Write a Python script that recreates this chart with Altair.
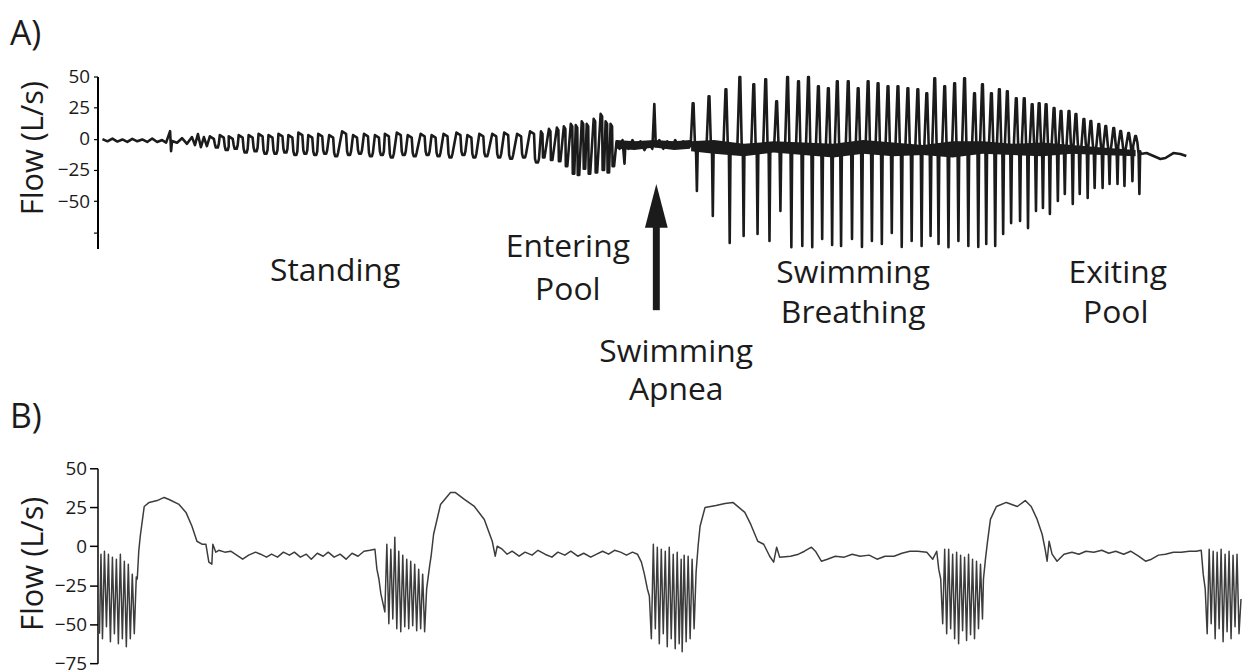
import altair as alt
import pandas as pd

FONT = "Open Sans"
INK = "#1b1b1b"
TRACE_B = "#3c3c3c"

# ---------------- Panel A: whole session (time in samples, flow in L/s) ----------------
a_rest_t = [5, 10, 15, 20, 25, 30, 35, 40, 45, 50, 55, 60, 65, 69, 73, 74, 75, 80, 85, 90,
            95, 98, 101, 104, 107, 110]
a_rest_flow = [-0.2, -2.0, 0.2, -2.2, -0.5, -2.5, 0.0, -2.0, -0.5, -2.5, 0.3, -2.5, -1.0, -3.0,
               6.2, -9.9, -1.8, -3.2, 0.5, -4.0, 1.4, -5.0, 3.8, -6.7, 1.4, -5.8]

stand_trough_t = [120, 130, 139, 149, 159, 169, 179, 189, 199, 209, 219, 229, 240, 253, 264,
                  275, 286, 296, 308, 319, 332, 343, 355, 368, 379, 391, 404, 416, 429, 442]
stand_trough_flow = [-7, -9, -8, -11, -10, -12, -12, -11, -13, -12, -13, -12, -14, -13, -12,
                     -14, -13, -15, -13, -14, -13, -14, -15, -13, -15, -14, -15, -16, -15, -19]
stand_top_flow = [2, 3, 2, 3, 3, 4, 3, 4, 3, 5, 3, 4, 3, 6, 3, 4, 3, 4, 5, 3, 4, 3, 4, 5, 3,
                  4, 4, 5, 4, 6]

enter_trough_t = [449, 457, 465, 472, 479, 484, 490, 495, 502, 509, 514, 519]
enter_trough_flow = [-15, -17, -18, -22, -28, -29, -24, -28, -27, -25, -27, -22]
enter_top_flow = [6, 8, 9, 10, 12, 11, 14, 12, 16, 20, 14, 12]

apnea_t = [522, 525, 528, 530, 531, 534, 538, 542, 546, 550, 554, 558, 560, 561.5, 565, 569,
           573, 577, 581, 585, 589, 593, 596]
apnea_flow = [-2, -8, -1, -20, -3, -8, -1, -7, -2, -9, -3, -8, 28, -6, -1, -8, -2, -7, -1, -6,
              -2, -6, -3]
apnea_band_t = [522, 540, 560, 580, 596]
apnea_band_hi = [-1, -2, -1, -2, -1]
apnea_band_lo = [-8, -9, -7, -9, -8]

swim_t = [599, 615, 632, 646, 660, 672, 683, 694, 705, 715, 725, 735, 744, 755, 765, 775, 785,
          795, 805, 815, 825, 834, 842, 852, 862, 872, 882, 890, 899, 907, 915, 924, 932, 940,
          947, 954, 962, 969, 977, 984, 992, 999, 1007, 1014, 1022, 1029, 1037, 1044]
swim_peak_flow = [28.6, 34.2, 39.8, 49.5, 43.8, 47.8, 30.2, 49.5, 46.2, 49.5, 42.2, 40.6, 46.2,
                  46.2, 40.6, 46.2, 44.6, 42.2, 42.2, 40.6, 39.8, 36.6, 48.6, 42.2, 44.6, 48.6,
                  36.6, 43.8, 36.6, 39.8, 38.2, 32.6, 32.6, 27.8, 28.6, 27.8, 24.6, 22.2, 22.2,
                  19.8, 15.8, 14.2, 11.8, 10.2, 8.6, 6.2, 4.6, 2.2]
swim_trough_flow = [-41.9, -61.9, -83.6, -77.9, -76.3, -82.0, -57.9, -87.0, -85.9, -87.0, -80.4,
                    -85.1, -85.9, -80.4, -86.7, -82.0, -84.4, -75.6, -86.7, -82.0, -85.9, -77.9,
                    -84.4, -87.0, -82.0, -85.9, -86.7, -84.4, -85.9, -76.3, -67.6, -65.9, -71.6,
                    -57.9, -55.5, -60.3, -49.9, -44.3, -52.3, -44.3, -47.5, -39.5, -39.5, -36.3,
                    -36.3, -37.9, -33.9, -44.3]
swim_base_flow = [-6, -3, -12, -10]
swim_band_t = [597, 620, 650, 680, 710, 740, 770, 800, 830, 860, 890, 920, 950, 980, 1010, 1044]
swim_band_hi = [-2, -1, -4, -2, -3, -4, -1, -3, -5, -2, -2, -4, -3, -5, -7, -9]
swim_band_lo = [-10, -12, -14, -11, -13, -15, -12, -14, -13, -15, -12, -13, -14, -12, -13, -14]

exit_t = [1049, 1055, 1062, 1069, 1074, 1082, 1089, 1095]
exit_flow = [-12.2, -11.4, -13.8, -16.2, -15.4, -11.4, -12.2, -13.8]

# ---------------- Panel B: four strokes (time in samples, flow in L/s) ----------------
b_burst1_t = [2, 3.5, 5, 7, 9, 11, 13, 15, 17, 19, 21, 23, 25, 27, 29, 31, 33, 35, 37, 39]
b_burst1_flow = [-56.1, -5.1, -59.3, -3.2, -51.7, -5.1, -61.2, -7.0, -56.1, -8.3, -62.5, -5.1,
                 -59.3, -9.6, -64.4, -11.5, -59.3, -17.9, -56.1, -19.8]
b_hump1_t = [40, 41.5, 43, 47, 52, 60, 67, 72, 82, 89, 95, 100, 105, 109, 112, 115, 116, 119]
b_hump1_flow = [-21.0, -3.2, 6.4, 25.5, 28.1, 29.3, 31.3, 30.0, 26.8, 21.7, 12.8, 3.2, 1.3, 1.3,
                -10.2, -11.5, 1.3, -3.8]
b_flat1_t = [122, 128, 134, 140, 146, 152, 159, 164, 170, 175, 181, 187, 193, 198, 204, 210,
             215, 221, 227, 232, 238, 244, 250, 256, 262, 268, 274, 279]
b_flat1_flow = [-2.6, -3.8, -3.2, -5.7, -8.3, -5.7, -3.8, -5.1, -7.0, -5.1, -7.0, -3.8, -5.7,
                -3.8, -7.0, -5.1, -8.3, -4.5, -6.4, -3.8, -7.0, -5.1, -8.3, -4.5, -6.4, -3.2,
                -2.6, -1.9]
b_burst2_t = [281, 283, 285, 289, 291, 293, 295, 297, 299, 301, 303, 305, 307, 309, 311, 313,
              315, 317, 319, 321, 323, 325, 327, 329]
b_burst2_flow = [-14.7, -21.0, -30.6, -42.1, 1.3, -49.7, -1.9, -46.6, 5.7, -52.9, -3.2, -54.9,
                 -5.7, -51.7, -8.3, -52.9, -9.6, -51.0, -11.5, -54.2, -14.7, -52.9, -17.9, -54.9]
b_hump2_t = [331, 334, 335.5, 338, 345, 355, 360, 369, 379, 389, 397, 400, 402]
b_hump2_flow = [-27.4, -12.8, -6.4, 7.7, 26.8, 34.4, 34.4, 30.0, 25.5, 17.2, 3.2, -6.4, 0.0]
b_flat2_t = [407, 412, 417, 424, 430, 437, 443, 450, 457, 463, 470, 476, 483, 489, 496, 502,
             508, 514, 520, 526, 532, 538, 543, 547]
b_flat2_flow = [-1.9, -5.1, -3.2, -6.4, -3.8, -5.7, -2.6, -5.1, -7.0, -3.8, -5.7, -3.2, -6.4,
                -4.5, -7.0, -5.1, -3.2, -5.1, -2.6, -3.8, -5.7, -3.8, -5.1, -10.2]
b_burst3_t = [550, 553, 555, 557, 559, 561, 563, 565, 567, 569, 571, 573, 575, 577, 579, 581,
              583, 585, 587, 588, 590, 592, 594, 596, 598, 600]
b_burst3_flow = [-17.9, -27.4, -31.9, -59.3, 1.3, -52.9, -0.6, -62.5, -1.9, -56.1, -3.2, -64.4,
                 -0.6, -59.3, -5.1, -65.7, -3.8, -62.5, -8.3, -67.6, -5.7, -61.2, -6.4, -59.3,
                 -8.3, -52.9]
b_hump3_t = [602, 604, 606, 611, 622, 631, 639, 645, 651, 657, 664, 670, 676, 680, 683, 686]
b_hump3_flow = [-16.6, 0.0, 12.8, 24.9, 26.1, 27.4, 28.1, 24.9, 21.7, 14.0, 3.2, 1.3, -6.4,
                -10.2, -0.6, -7.0]
b_flat3_t = [697, 705, 711, 718, 722, 728, 734, 742, 751, 759, 767, 776, 784, 792, 801, 809,
             817, 825, 834, 840, 844, 846]
b_flat3_flow = [-6.4, -5.1, -3.2, -0.6, -3.2, -9.6, -8.3, -6.4, -7.0, -5.1, -6.4, -5.7, -8.3,
                -6.4, -6.4, -4.5, -3.2, -3.2, -3.8, -8.3, -3.2, -14.7]
b_burst4_t = [848, 850, 852, 854, 856, 858, 860, 862, 864, 866, 868, 870, 872, 874, 876, 878,
              880, 882, 884, 886, 888, 890]
b_burst4_flow = [-21.0, -49.7, -1.9, -56.1, -1.9, -52.9, -5.1, -59.3, -3.8, -62.5, -5.7, -54.2,
                 -7.0, -60.5, -5.1, -56.8, -8.3, -59.3, -9.6, -52.9, -11.5, -46.6]
b_hump4_t = [891, 893, 895, 898, 904, 914, 925, 933, 939, 945, 950, 953, 955, 957, 960, 965,
             972]
b_hump4_flow = [-21.0, -8.3, 2.6, 17.2, 25.5, 28.1, 25.5, 29.3, 25.5, 17.2, 7.7, -1.9, -9.6, 3.2,
                -5.1, -9.6, -5.1]
b_flat4_t = [980, 987, 994, 1002, 1010, 1017, 1024, 1032, 1039, 1047, 1054, 1060, 1067, 1074,
             1082, 1090, 1098, 1105, 1110]
b_flat4_flow = [-3.8, -5.1, -3.2, -3.8, -2.6, -4.5, -3.2, -5.1, -3.2, -6.4, -9.6, -8.3, -5.7,
                -5.1, -3.8, -3.8, -3.2, -3.2, -2.6]
b_burst5_t = [1112, 1114, 1116, 1118, 1120, 1122, 1124, 1126, 1128, 1130, 1132, 1134, 1136,
              1138, 1140, 1142, 1144, 1146, 1148, 1150]
b_burst5_flow = [-17.9, -27.4, -56.1, -1.9, -49.7, -3.2, -59.3, -3.8, -52.9, -1.9, -61.2, -5.1,
                 -54.9, -3.2, -59.3, -5.7, -51.7, -5.1, -56.1, -33.8]

flow_ticks = [50, 25, 0, -25, -50, -75]
phase_labels = ["Standing", "Entering", "Pool", "Swimming", "Apnea", "Swimming", "Breathing",
                "Exiting", "Pool"]


def table(points):
    df = pd.DataFrame(points, columns=["t", "flow"])
    df["i"] = range(len(df))
    return df


def build_a():
    pts = list(zip(a_rest_t, a_rest_flow))
    for t, lo, hi in zip(stand_trough_t, stand_trough_flow, stand_top_flow):
        pts += [(t - 7, hi), (t - 3, hi - 2), (t - 2, lo + 3), (t - 1, lo), (t + 1, lo),
                (t + 2, lo + 3)]
    for t, lo, hi in zip(enter_trough_t, enter_trough_flow, enter_top_flow):
        pts += [(t - 3, hi), (t - 1.5, hi - 2), (t - 1, lo), (t + 0.5, lo)]
    pts += list(zip(apnea_t, apnea_flow))
    b0, b1, b2, b3 = swim_base_flow
    for t, hi, lo in zip(swim_t, swim_peak_flow, swim_trough_flow):
        pts += [(t - 2.5, b0), (t - 0.4, hi), (t + 0.4, hi), (t + 1.8, b1), (t + 3, b2),
                (t + 3.8, lo), (t + 4.6, b3)]
    pts += list(zip(exit_t, exit_flow))
    return table(pts)


def build_b():
    ts = (b_burst1_t + b_hump1_t + b_flat1_t + b_burst2_t + b_hump2_t + b_flat2_t + b_burst3_t
          + b_hump3_t + b_flat3_t + b_burst4_t + b_hump4_t + b_flat4_t + b_burst5_t)
    fs = (b_burst1_flow + b_hump1_flow + b_flat1_flow + b_burst2_flow + b_hump2_flow
          + b_flat2_flow + b_burst3_flow + b_hump3_flow + b_flat3_flow + b_burst4_flow
          + b_hump4_flow + b_flat4_flow + b_burst5_flow)
    return table(list(zip(ts, fs)))


dfA = build_a()
dfB = build_b()
dfBand = pd.DataFrame({
    "t": apnea_band_t + swim_band_t,
    "hi": apnea_band_hi + swim_band_hi,
    "lo": apnea_band_lo + swim_band_lo,
    "seg": ["apnea"] * len(apnea_band_t) + ["swim"] * len(swim_band_t),
})

x_enc = alt.X("t:Q", scale=alt.Scale(domain=[0, 1150], nice=False, zero=False), axis=None)


def one(text):
    return pd.DataFrame({"s": [text]})


def phase_text(text, t, ybase):
    return alt.Chart(one(text)).mark_text(
        font=FONT, fontSize=32, color=INK, align="center", baseline="alphabetic"
    ).encode(x=alt.datum(t), y=alt.value(ybase), text="s:N")


def pixel_text(text, xpx, ypx, size, angle=0, align="left", baseline="alphabetic"):
    return alt.Chart(one(text)).mark_text(
        font=FONT, fontSize=size, color=INK, align=align, baseline=baseline, angle=angle
    ).encode(x=alt.value(xpx), y=alt.value(ypx), text="s:N")


# ---- Panel A ----
scaleA = alt.Scale(domain=[-88, 50], nice=False, zero=False)
axisA = alt.Axis(values=flow_ticks, labelExpr="datum.value == -75 ? '' : datum.label",
                 title=None, grid=False, domainColor="black", domainWidth=2,
                 tickColor="black", tickSize=4, tickWidth=1.2, labelFont=FONT,
                 labelFontSize=19, labelColor=INK, labelPadding=4)
trace_a = alt.Chart(dfA).mark_line(color=INK, strokeWidth=2.6, strokeJoin="round").encode(
    x=x_enc, y=alt.Y("flow:Q", scale=scaleA, axis=axisA), order="i:Q")
band_a = alt.Chart(dfBand).mark_area(color=INK, opacity=1).encode(
    x=x_enc, y=alt.Y("hi:Q", scale=scaleA, axis=axisA), y2="lo:Q", detail="seg:N")

shaft = alt.Chart(one("arrow")).mark_rule(color=INK, strokeWidth=7).encode(
    x=alt.datum(562), y=alt.value(235), y2=alt.value(148))
head = alt.Chart(one("head")).mark_point(
    shape="M0,-1L0.52,1L-0.52,1Z", size=1936, filled=True, color=INK, opacity=1, strokeWidth=0
).encode(x=alt.datum(562), y=alt.value(130))

panel_a = alt.layer(
    trace_a,
    band_a,
    phase_text(phase_labels[0], 239, 206),
    phase_text(phase_labels[1], 473, 182),
    phase_text(phase_labels[2], 473, 225),
    phase_text(phase_labels[3], 582, 287),
    phase_text(phase_labels[4], 582, 325),
    phase_text(phase_labels[5], 760, 208),
    phase_text(phase_labels[6], 760, 248),
    phase_text(phase_labels[7], 1026, 208),
    phase_text(phase_labels[8], 1024, 248),
    shaft, head,
    pixel_text("Flow (L/s)", -64, 72, 31, angle=270, align="center", baseline="middle"),
    pixel_text("A)", -88, -32, 34),
).properties(width=1150, height=173)

# ---- Panel B ----
yB = alt.Y(
    "flow:Q",
    scale=alt.Scale(domain=[-75, 50], nice=False, zero=False),
    axis=alt.Axis(values=flow_ticks, title=None, grid=False, domainColor="black",
                  domainWidth=1.5, tickColor="black", tickSize=8, tickWidth=1.5,
                  labelFont=FONT, labelFontSize=19, labelColor=INK, labelPadding=3),
)
trace_b = alt.Chart(dfB).mark_line(color=TRACE_B, strokeWidth=1.5, strokeJoin="round").encode(
    x=x_enc, y=yB, order="i:Q")

panel_b = alt.layer(
    trace_b,
    pixel_text("Flow (L/s)", -64, 96, 31, angle=270, align="center", baseline="middle"),
    pixel_text("B)", -88, -41, 34),
).properties(width=1150, height=196)

chart = alt.vconcat(panel_a, panel_b, spacing=221, bounds="flush").properties(
    padding={"left": 2, "top": 8, "right": 0, "bottom": 0},
    background="white",
).configure_view(stroke=None)

chart.save("out.html", embed_options={"renderer": "svg", "actions": False})
